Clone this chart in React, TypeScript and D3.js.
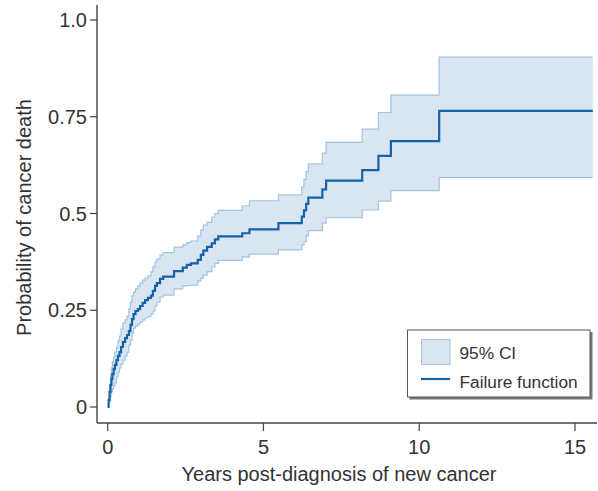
import React from 'react';
import * as d3 from 'd3';

// Kaplan-Meier failure function
const times = [
  0, 0.03, 0.06, 0.09, 0.12, 0.15, 0.19, 0.23, 0.28, 0.33, 0.38, 0.43, 0.49, 0.56, 0.62, 0.68,
  0.73, 0.78, 0.83, 0.89, 0.97, 1.04, 1.12, 1.2, 1.29, 1.39, 1.45, 1.52, 1.58, 1.68, 1.78,
  2.13, 2.41, 2.54, 2.67, 2.89, 2.99, 3.07, 3.19, 3.34, 3.44, 3.55, 4.32, 4.55, 5.48,
  6.23, 6.3, 6.37, 6.44, 6.89, 7.01, 8.17, 8.69, 9.09, 10.64,
];
const failure = [
  0, 0.018, 0.039, 0.057, 0.072, 0.085, 0.098, 0.109, 0.121, 0.132, 0.142, 0.155, 0.168, 0.178, 0.186, 0.196,
  0.212, 0.227, 0.24, 0.248, 0.253, 0.261, 0.269, 0.276, 0.282, 0.288, 0.3, 0.313, 0.32, 0.331, 0.337,
  0.351, 0.36, 0.367, 0.371, 0.38, 0.393, 0.404, 0.414, 0.423, 0.433, 0.441, 0.449, 0.459, 0.475,
  0.492, 0.508, 0.525, 0.541, 0.5625, 0.585, 0.612, 0.649, 0.687, 0.765,
];
const upperCI = [
  0, 0.023, 0.057, 0.083, 0.101, 0.116, 0.129, 0.142, 0.155, 0.171, 0.183, 0.202, 0.217, 0.225, 0.235, 0.253,
  0.271, 0.287, 0.297, 0.305, 0.313, 0.32, 0.328, 0.333, 0.339, 0.349, 0.362, 0.375, 0.382, 0.393, 0.399,
  0.413, 0.419, 0.425, 0.429, 0.442, 0.457, 0.47, 0.477, 0.491, 0.5, 0.508, 0.52, 0.533, 0.548,
  0.569, 0.588, 0.608, 0.628, 0.656, 0.684, 0.718, 0.761, 0.806, 0.904,
];
const lowerCI = [
  0, 0.008, 0.018, 0.028, 0.039, 0.047, 0.054, 0.062, 0.078, 0.09, 0.101, 0.111, 0.121, 0.132, 0.142, 0.16,
  0.173, 0.191, 0.204, 0.209, 0.214, 0.22, 0.225, 0.23, 0.234, 0.24, 0.248, 0.261, 0.271, 0.284, 0.289,
  0.305, 0.313, 0.314, 0.315, 0.326, 0.333, 0.341, 0.35, 0.362, 0.371, 0.379, 0.388, 0.395, 0.406,
  0.419, 0.427, 0.442, 0.456, 0.475, 0.489, 0.509, 0.532, 0.559, 0.593,
];
const lastTime = 15.57;

const xTicks = [0, 5, 10, 15];
const yTicks = [0, 0.25, 0.5, 0.75, 1];
const yTickLabels = ['0', '0.25', '0.5', '0.75', '1.0'];

const FONT = 'Liberation Sans, Arial, Helvetica, sans-serif';

export default function App() {
  const width = 598;
  const height = 491;

  const x = d3.scaleLinear().domain([0, 15]).range([107.7, 575]);
  const y = d3.scaleLinear().domain([0, 1]).range([407, 20]);
  const axisLeft = 97;
  const axisBottom = 423;

  // extend each series to the end of follow-up
  const pts = times.map((t, i) => ({ t, f: failure[i], lo: lowerCI[i], hi: upperCI[i] }));
  const last = pts[pts.length - 1];
  pts.push({ ...last, t: lastTime });

  const area = d3.area<any>()
    .x(d => x(d.t))
    .y0(d => y(d.lo))
    .y1(d => y(d.hi))
    .curve(d3.curveStepAfter);
  const upperLine = d3.line<any>().x(d => x(d.t)).y(d => y(d.hi)).curve(d3.curveStepAfter);
  const lowerLine = d3.line<any>().x(d => x(d.t)).y(d => y(d.lo)).curve(d3.curveStepAfter);
  const failLine = d3.line<any>().x(d => x(d.t)).y(d => y(d.f)).curve(d3.curveStepAfter);

  const ciFill = '#d9e6f2';
  const ciStroke = '#a3c3e2';
  const lineColor = '#1562a8';
  const axisColor = '#444';
  const textColor = '#333';

  return (
    <svg width={width} height={height} style={{ position: 'absolute', left: 0, top: 0, background: '#fff' }}
      fontFamily={FONT}>
      {/* CI band */}
      <path d={area(pts) || ''} fill={ciFill} stroke="none" />
      <path d={upperLine(pts) || ''} fill="none" stroke={ciStroke} strokeWidth={1.2} />
      <path d={lowerLine(pts) || ''} fill="none" stroke={ciStroke} strokeWidth={1.2} />
      {/* failure function */}
      <path d={failLine(pts) || ''} fill="none" stroke={lineColor} strokeWidth={2.2} />

      {/* axes */}
      <line x1={axisLeft} x2={axisLeft} y1={5} y2={axisBottom} stroke={axisColor} strokeWidth={1.4} />
      <line x1={axisLeft} x2={597} y1={axisBottom} y2={axisBottom} stroke={axisColor} strokeWidth={1.4} />
      {yTicks.map((v, i) => (
        <g key={'y' + v}>
          <line x1={axisLeft - 7} x2={axisLeft} y1={y(v)} y2={y(v)} stroke={axisColor} strokeWidth={1.2} />
          <text x={87} y={y(v)} dy="0.35em" textAnchor="end" fontSize={20} fill={textColor}>{yTickLabels[i]}</text>
        </g>
      ))}
      {xTicks.map(v => (
        <g key={'x' + v}>
          <line x1={x(v)} x2={x(v)} y1={axisBottom} y2={axisBottom + 8} stroke={axisColor} strokeWidth={1.2} />
          <text x={x(v)} y={453.5} textAnchor="middle" fontSize={20} fill={textColor}>{v}</text>
        </g>
      ))}
      <text x={339} y={480.5} textAnchor="middle" fontSize={20} fill={textColor}>Years post-diagnosis of new cancer</text>
      <text transform="translate(31,217.5) rotate(-90)" textAnchor="middle" fontSize={20} fill={textColor}>Probability of cancer death</text>

      {/* legend */}
      <rect x={409.5} y={332} width={183} height={67.5} fill="#777" />
      <rect x={407.5} y={330} width={182.5} height={67} fill="#fff" stroke="#555" strokeWidth={1} />
      <rect x={421.5} y={339.5} width={28.5} height={25} fill={ciFill} stroke={ciStroke} strokeWidth={1} />
      <text x={459.5} y={353} dy="0.35em" fontSize={17.3} fill={textColor}>95% CI</text>
      <line x1={421} x2={450} y1={379} y2={379} stroke={lineColor} strokeWidth={2.2} />
      <text x={459.5} y={381.5} dy="0.35em" fontSize={17.3} fill={textColor}>Failure function</text>
    </svg>
  );
}
